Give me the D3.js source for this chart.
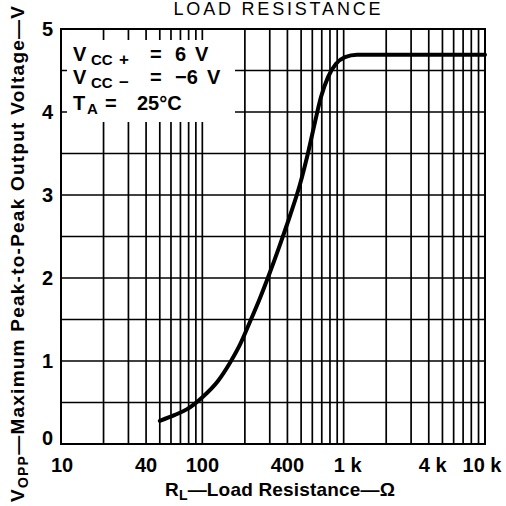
<!DOCTYPE html>
<html><head><meta charset="utf-8">
<script src="https://cdn.jsdelivr.net/npm/d3@7"></script>
<style>body{margin:0;background:#fff}svg{display:block}text{font-family:"Liberation Sans",Arial,sans-serif;fill:#000}</style>
</head><body>
<script>
const resistance = [50, 64, 78, 101, 129, 157, 185, 217, 256, 301, 354, 417, 491, 560, 627, 691, 775, 883, 1022, 1243, 10000];
const vopp = [0.28, 0.35, 0.42, 0.57, 0.76, 0.98, 1.20, 1.47, 1.76, 2.07, 2.40, 2.75, 3.13, 3.51, 3.88, 4.18, 4.42, 4.58, 4.66, 4.69, 4.69];
const xTickValues = [10, 40, 100, 400, 1000, 4000, 10000];
const xTickLabels = ["10", "40", "100", "400", "1 k", "4 k", "10 k"];
const yTickValues = [0, 1, 2, 3, 4, 5];
const yGridValues = [0.5, 1, 1.5, 2, 2.5, 3, 3.5, 4, 4.5];
const xGridValues = [20,30,40,50,60,70,80,90,100,200,300,400,500,600,700,800,900,1000,2000,3000,4000,5000,6000,7000,8000,9000];

const W = 506, H = 506;
const svg = d3.select("body").append("svg").attr("width", W).attr("height", H);
const x = d3.scaleLog().domain([10, 10000]).range([61, 485]);
const y = d3.scaleLinear().domain([0, 5]).range([444, 29]);

// grid
svg.append("g").selectAll("line").data(xGridValues).join("line")
  .attr("x1", d => x(d)).attr("x2", d => x(d)).attr("y1", y(5)).attr("y2", y(0))
  .attr("stroke", "#000").attr("stroke-width", 1.7);
svg.append("g").selectAll("line").data(yGridValues).join("line")
  .attr("x1", x(10)).attr("x2", x(10000)).attr("y1", d => y(d)).attr("y2", d => y(d))
  .attr("stroke", "#000").attr("stroke-width", 1.7);

// annotation box (white, leaves short ticks)
svg.append("rect").attr("x", 67).attr("y", 40).attr("width", 168).attr("height", 82).attr("fill", "#fff");

// frame
svg.append("rect").attr("x", x(10)).attr("y", y(5)).attr("width", x(10000) - x(10)).attr("height", y(0) - y(5))
  .attr("fill", "none").attr("stroke", "#000").attr("stroke-width", 2);

// curve
const line = d3.line().x((d, i) => x(resistance[i])).y((d, i) => y(vopp[i])).curve(d3.curveMonotoneX);
svg.append("path").datum(vopp).attr("d", line).attr("fill", "none").attr("stroke", "#000").attr("stroke-width", 4).attr("stroke-linecap", "round");

// y tick labels
svg.append("g").selectAll("text").data(yTickValues).join("text")
  .attr("x", 53).attr("y", d => y(d) + (d === 0 ? 1 : 7)).attr("text-anchor", "end")
  .attr("font-size", 20).attr("font-weight", "bold").text(d => d);

// x tick labels
svg.append("g").selectAll("text").data(xTickValues).join("text")
  .attr("x", (d, i) => x(d) + (i === 0 ? 1 : i === xTickValues.length - 1 ? -3 : (xTickLabels[i].includes("k") ? 4 : 0)))
  .attr("y", 472).attr("text-anchor", "middle")
  .attr("font-size", 20).attr("font-weight", "bold").text((d, i) => xTickLabels[i]);

// x axis title
const xt = svg.append("text").attr("x", 280).attr("y", 496).attr("text-anchor", "middle").attr("font-size", 19).attr("font-weight", "bold")
  .attr("textLength", 230).attr("lengthAdjust", "spacing");
xt.append("tspan").text("R");
xt.append("tspan").attr("font-size", 14).attr("dy", 4).text("L");
xt.append("tspan").attr("dy", -4).text("\u2014Load Resistance\u2014\u03A9");

// y axis title
const yt = svg.append("text").attr("transform", "translate(24,254) rotate(-90)").attr("text-anchor", "middle")
  .attr("font-size", 19).attr("font-weight", "bold").attr("textLength", 496).attr("lengthAdjust", "spacing");
yt.append("tspan").text("V");
yt.append("tspan").attr("font-size", 14).attr("dy", 4).text("OPP");
yt.append("tspan").attr("dy", -4).text("\u2014Maximum Peak-to-Peak Output Voltage\u2014V");

// title (top edge)
svg.append("text").attr("x", 277).attr("y", 15).attr("text-anchor", "middle").attr("font-size", 18)
  .attr("textLength", 207).attr("lengthAdjust", "spacing").text("LOAD RESISTANCE");

// annotation
const ann = svg.append("g").attr("font-weight", "bold");
function piece(xp, yp, t, size) {
  ann.append("text").attr("x", xp).attr("y", yp).attr("font-size", size || 20).text(t);
}
piece(73, 61, "V"); piece(91, 65, "CC", 15); piece(119, 65, "+", 17);
piece(150, 61, "="); piece(175, 61, "6"); piece(195, 61, "V");
piece(73, 84, "V"); piece(91, 88, "CC", 15); piece(119, 88, "\u2212", 17);
piece(150, 84, "="); piece(175, 84, "\u22126"); piece(207, 84, "V");
piece(73, 110, "T"); piece(87, 114, "A", 15);
piece(105, 110, "="); piece(137, 110, "25\u00B0C");
</script>
</body></html>
